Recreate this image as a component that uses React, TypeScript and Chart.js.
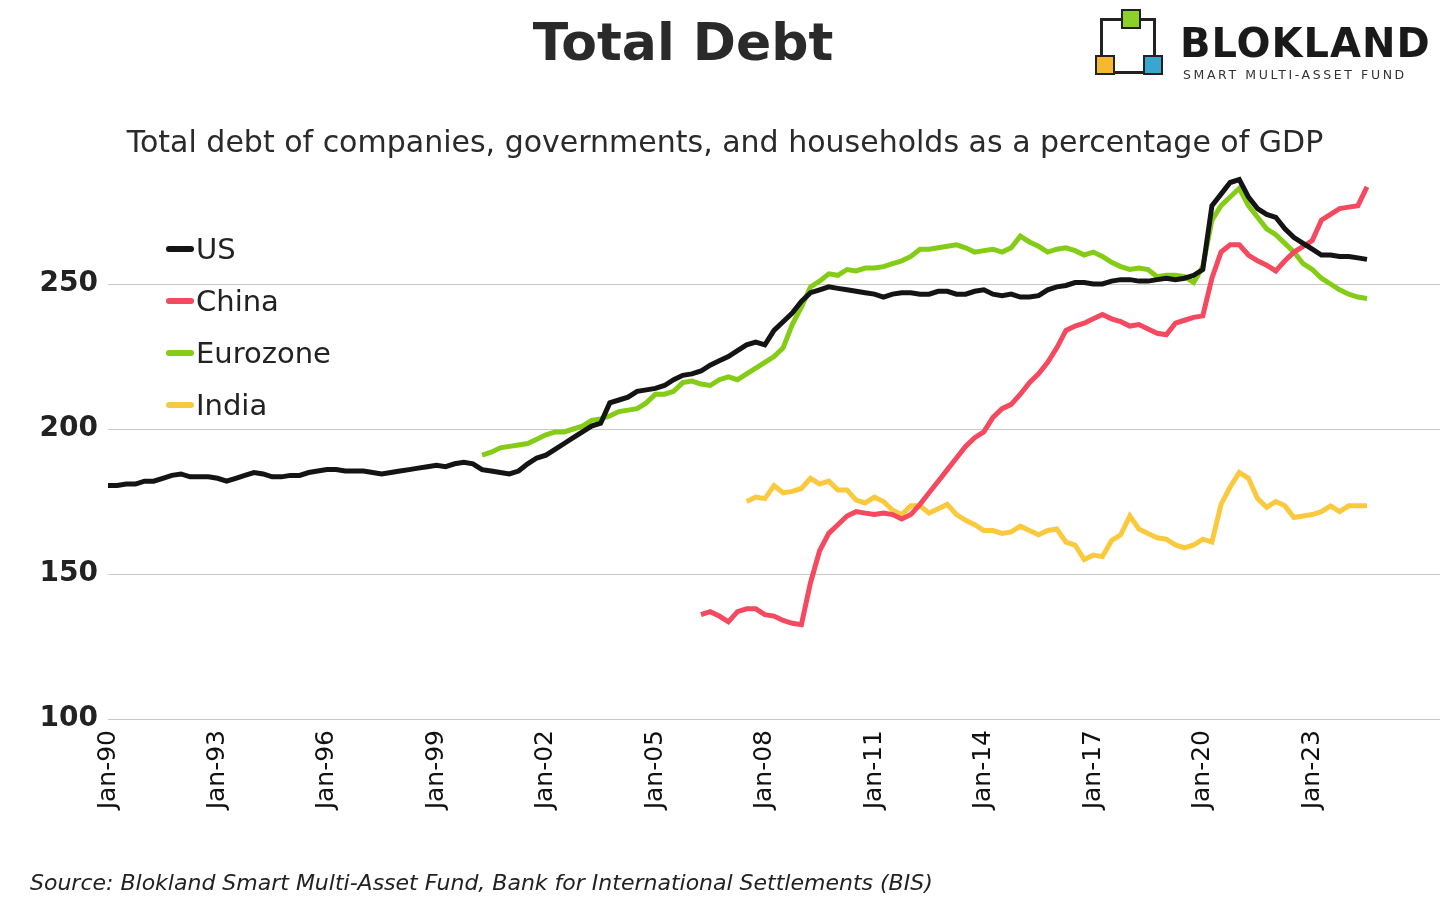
import { useEffect, useRef } from 'react';
import { Chart, registerables } from 'chart.js';

Chart.register(...registerables);

const FONT = '"DejaVu Sans", Verdana, sans-serif';
const MONTHS = ['Jan', 'Apr', 'Jul', 'Oct'];

// quarterly labels, 1990 Q1 .. 2026 Q3 (the axis runs past the data)
const labels: string[] = [];
for (let y = 1990; labels.length < 147; y++) {
  for (const m of MONTHS) {
    if (labels.length < 147) labels.push(m + '-' + String(y % 100).padStart(2, '0'));
  }
}

// % of GDP, quarterly from 1990 Q1
const us = [
  180.5, 180.5, 181, 181, 182, 182, 183, 184, 184.5, 183.5, 183.5, 183.5,
  183, 182, 183, 184, 185, 184.5, 183.5, 183.5, 184, 184, 185, 185.5,
  186, 186, 185.5, 185.5, 185.5, 185, 184.5, 185, 185.5, 186, 186.5, 187,
  187.5, 187, 188, 188.5, 188, 186, 185.5, 185, 184.5, 185.5, 188, 190,
  191, 193, 195, 197, 199, 201, 202, 209, 210, 211, 213, 213.5,
  214, 215, 217, 218.5, 219, 220, 222, 223.5, 225, 227, 229, 230,
  229, 234, 237, 240, 244, 247, 248, 249, 248.5, 248, 247.5, 247,
  246.5, 245.5, 246.5, 247, 247, 246.5, 246.5, 247.5, 247.5, 246.5, 246.5, 247.5,
  248, 246.5, 246, 246.5, 245.5, 245.5, 246, 248, 249, 249.5, 250.5, 250.5,
  250, 250, 251, 251.5, 251.5, 251, 251, 251.5, 252, 251.5, 252, 253,
  255, 277, 281, 285, 286, 280, 276, 274, 273, 269, 266, 264,
  262, 260, 260, 259.5, 259.5, 259, 258.5,
];

const china = [
  ...Array(65).fill(null), 136, 137, 135.5,
  133.5, 137, 138, 138, 136, 135.5, 134, 133, 132.5, 147, 158, 164,
  167, 170, 171.5, 171, 170.5, 171, 170.5, 169, 170.5, 174, 178, 182,
  186, 190, 194, 197, 199, 204, 207, 208.5, 212, 216, 219, 223,
  228, 234, 235.5, 236.5, 238, 239.5, 238, 237, 235.5, 236, 234.5, 233,
  232.5, 236.5, 237.5, 238.5, 239, 252, 261, 263.5, 263.5, 260, 258, 256.5,
  254.5, 258, 261, 263, 265, 272, 274, 276, 276.5, 277, 283.5,
];

const eurozone = [
  ...Array(41).fill(null), 191, 192, 193.5,
  194, 194.5, 195, 196.5, 198, 199, 199, 200, 201, 203, 203.5, 204.5,
  206, 206.5, 207, 209, 212, 212, 213, 216, 216.5, 215.5, 215, 217,
  218, 217, 219, 221, 223, 225, 228, 236, 242, 249, 251, 253.5,
  253, 255, 254.5, 255.5, 255.5, 256, 257, 258, 259.5, 262, 262, 262.5,
  263, 263.5, 262.5, 261, 261.5, 262, 261, 262.5, 266.5, 264.5, 263, 261,
  262, 262.5, 261.5, 260, 261, 259.5, 257.5, 256, 255, 255.5, 255, 252.5,
  253, 253, 252.5, 250.5, 256, 272, 277, 280, 283, 277, 273, 269,
  267, 264, 261, 257, 255, 252, 250, 248, 246.5, 245.5, 245,
];

const india = [
  ...Array(70).fill(null), 175, 176.5,
  176, 180.5, 178, 178.5, 179.5, 183, 181, 182, 179, 179, 175.5, 174.5,
  176.5, 175, 172, 170.5, 173.5, 173.5, 171, 172.5, 174, 170.5, 168.5, 167,
  165, 165, 164, 164.5, 166.5, 165, 163.5, 165, 165.5, 161, 160, 155,
  156.5, 156, 161.5, 163.5, 170, 165.5, 164, 162.5, 162, 160, 159, 160,
  162, 161, 174, 180, 185, 183, 176, 173, 175, 173.5, 169.5, 170,
  170.5, 171.5, 173.5, 171.5, 173.5, 173.5, 173.5,
];

const seriesNames = ['US', 'China', 'Eurozone', 'India'];
const seriesColors = ['#141414', '#f5495f', '#84cc16', '#fbc93d'];
const seriesData = [us, china, eurozone, india];

export default function App() {
  const ref = useRef<HTMLCanvasElement>(null);

  useEffect(() => {
    if (!ref.current) return;
    const chart = new Chart(ref.current, {
      type: 'line',
      data: {
        labels,
        datasets: seriesNames.map((name, i) => ({
          label: name,
          data: seriesData[i],
          borderColor: seriesColors[i],
          borderWidth: 5,
          pointRadius: 0,
          tension: 0,
          spanGaps: false,
        })),
      },
      options: {
        animation: false,
        responsive: false,
        layout: { padding: { top: 168, bottom: 50, left: 0, right: 16 } },
        plugins: { legend: { display: false }, tooltip: { enabled: false } },
        scales: {
          x: {
            afterFit: (s: any) => { s.height = 140; },
            grid: { display: false },
            border: { display: false },
            ticks: {
              autoSkip: false,
              maxRotation: 90,
              minRotation: 90,
              color: '#111',
              font: { family: FONT, size: 25 },
              callback: (_v: any, i: number) => (i % 12 === 0 && i < 140 ? labels[i] : null),
            },
          },
          y: {
            min: 100,
            max: 290,
            afterFit: (s: any) => { s.width = 108; },
            border: { display: false },
            grid: {
              color: (c: any) => (c.tick && c.tick.value % 50 === 0 ? '#c8c8c8' : 'transparent'),
              drawTicks: false,
            },
            ticks: {
              stepSize: 50,
              padding: 10,
              color: '#222',
              font: { family: FONT, size: 28, weight: 'bold' },
              callback: (v: any) => (v % 50 === 0 ? String(v) : null),
            },
          },
        },
      },
    });
    return () => chart.destroy();
  }, []);

  return (
    <div style={{ position: 'fixed', left: 0, top: 0, width: 1456, height: 909, background: '#fff', fontFamily: FONT, color: '#222' }}>
      <canvas ref={ref} width={1456} height={909} style={{ position: 'absolute', left: 0, top: 0 }} />
      <div style={{ position: 'absolute', left: 0, width: 1366, top: 12, textAlign: 'center', fontSize: 52, fontWeight: 'bold', color: '#2a2a2a' }}>
        Total Debt
      </div>
      <div style={{ position: 'absolute', left: 1100, top: 18, width: 56, height: 56, border: '3px solid #222', boxSizing: 'border-box' }}>
        <div style={{ position: 'absolute', left: 18, top: -12, width: 16, height: 16, background: '#8bd12a', border: '2px solid #222' }} />
        <div style={{ position: 'absolute', left: -8, top: 34, width: 16, height: 16, background: '#f5b82e', border: '2px solid #222' }} />
        <div style={{ position: 'absolute', left: 40, top: 34, width: 16, height: 16, background: '#3aa6d0', border: '2px solid #222' }} />
      </div>
      <div style={{ position: 'absolute', left: 1180, top: 20, fontSize: 40, fontWeight: 'bold', color: '#1a1a1a', letterSpacing: 1 }}>BLOKLAND</div>
      <div style={{ position: 'absolute', left: 1183, top: 67, fontSize: 12.5, letterSpacing: 2.6, color: '#333' }}>SMART MULTI-ASSET FUND</div>
      <div style={{ position: 'absolute', left: 0, width: 1450, top: 124, textAlign: 'center', fontSize: 30, color: '#2a2a2a' }}>
        Total debt of companies, governments, and households as a percentage of GDP
      </div>
      {seriesNames.map((n, i) => (
        <div key={n} style={{ position: 'absolute', left: 166, top: 232 + i * 52, fontSize: 29, display: 'flex', alignItems: 'center' }}>
          <span style={{ display: 'inline-block', width: 28, height: 6, background: seriesColors[i], borderRadius: 3, marginRight: 2 }} />
          {n}
        </div>
      ))}
      <div style={{ position: 'absolute', left: 30, top: 870, fontSize: 22, fontStyle: 'italic', color: '#222' }}>
        Source: Blokland Smart Multi-Asset Fund, Bank for International Settlements (BIS)
      </div>
    </div>
  );
}
